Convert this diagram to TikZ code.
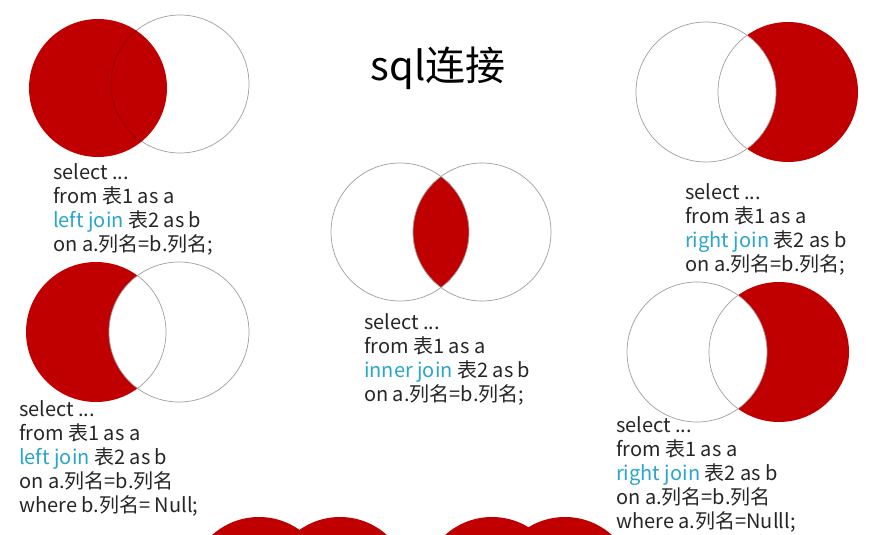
\documentclass[tikz,border=0pt]{standalone}
\usepackage{fontspec}
\setmainfont{Noto Sans CJK SC}
\usepackage{xcolor}
\usepackage{tikz}
\definecolor{joinred}{HTML}{C00000}
\definecolor{joinblue}{HTML}{2AA5CB}
\definecolor{codegray}{HTML}{262626}
\definecolor{ringgray}{HTML}{A0A0A0}
\tikzset{
    ring/.style={
        draw=ringgray,
        line width=0.7pt
    },
    innerring/.style={
        draw=joinred!75!black,
        line width=0.5pt
    },
    sqlcode/.style={
        anchor=north west,
        align=left,
        inner sep=0pt,
        text=codegray,
        font=\fontsize{20}{24}\selectfont
    },
    heading/.style={
        text=black,
        font=\fontsize{40}{44}\selectfont
    }
}
\newcommand{\kw}[1]{\textcolor{joinblue}{#1}}

\begin{document}
\begin{tikzpicture}[x=1pt, y=-1pt]
    \clip (0,0) rectangle (884,535);
    \fill[white] (0,0) rectangle (884,535);

    % centres of the circles
    \coordinate (lja) at (98,88);
    \coordinate (ljb) at (180,84);
    \coordinate (rja) at (706,92);
    \coordinate (rjb) at (788,92);
    \coordinate (ija) at (400,232);
    \coordinate (ijb) at (482,232);
    \coordinate (lea) at (96,332);
    \coordinate (leb) at (179,332);
    \coordinate (rea) at (697,352);
    \coordinate (reb) at (779,352);

    \node[heading] (title) at (438,68) {sql连接};

    % left join
    \draw[ring, fill=white] (ljb) circle[radius=69pt];
    \fill[joinred] (lja) circle[radius=69pt];
    \begin{scope}
        \clip (lja) circle[radius=69pt];
        \draw[innerring] (ljb) circle[radius=69pt];
    \end{scope}
    \node[sqlcode] (leftjoin) at (53,163) {select ...\\from 表1 as a\\\kw{left join} 表2 as b\\on a.列名=b.列名;};

    % right join
    \fill[joinred] (rjb) circle[radius=70pt];
    \draw[ring, fill=white] (rja) circle[radius=70pt];
    \begin{scope}
        \clip (rja) circle[radius=70pt];
        \draw[ring] (rjb) circle[radius=70pt];
    \end{scope}
    \node[sqlcode] (rightjoin) at (685,183) {select ...\\from 表1 as a\\\kw{right join} 表2 as b\\on a.列名=b.列名;};

    % inner join
    \begin{scope}
        \clip (ija) circle[radius=69pt];
        \fill[joinred] (ijb) circle[radius=69pt];
    \end{scope}
    \draw[ring] (ija) circle[radius=69pt];
    \draw[ring] (ijb) circle[radius=69pt];
    \node[sqlcode] (innerjoin) at (364,313) {select ...\\from 表1 as a\\\kw{inner join} 表2 as b\\on a.列名=b.列名;};

    % left join, b is null
    \fill[joinred] (lea) circle[radius=70pt];
    \draw[ring, fill=white] (leb) circle[radius=70pt];
    \begin{scope}
        \clip (leb) circle[radius=70pt];
        \draw[ring] (lea) circle[radius=70pt];
    \end{scope}
    \node[sqlcode] (leftnull) at (19,400) {select ...\\from 表1 as a\\\kw{left join} 表2 as b\\on a.列名=b.列名\\where b.列名= Null;};

    % right join, a is null
    \fill[joinred] (reb) circle[radius=70pt];
    \draw[ring, fill=white] (rea) circle[radius=70pt];
    \begin{scope}
        \clip (rea) circle[radius=70pt];
        \draw[ring] (reb) circle[radius=70pt];
    \end{scope}
    \node[sqlcode] (rightnull) at (616,416) {select ...\\from 表1 as a\\\kw{right join} 表2 as b\\on a.列名=b.列名\\where a.列名=Nulll;};

    % circles cut off at the bottom
    \foreach \cx in {259,340,492,565}
        \fill[joinred] (\cx,587) circle[radius=70pt];
\end{tikzpicture}
\end{document}
